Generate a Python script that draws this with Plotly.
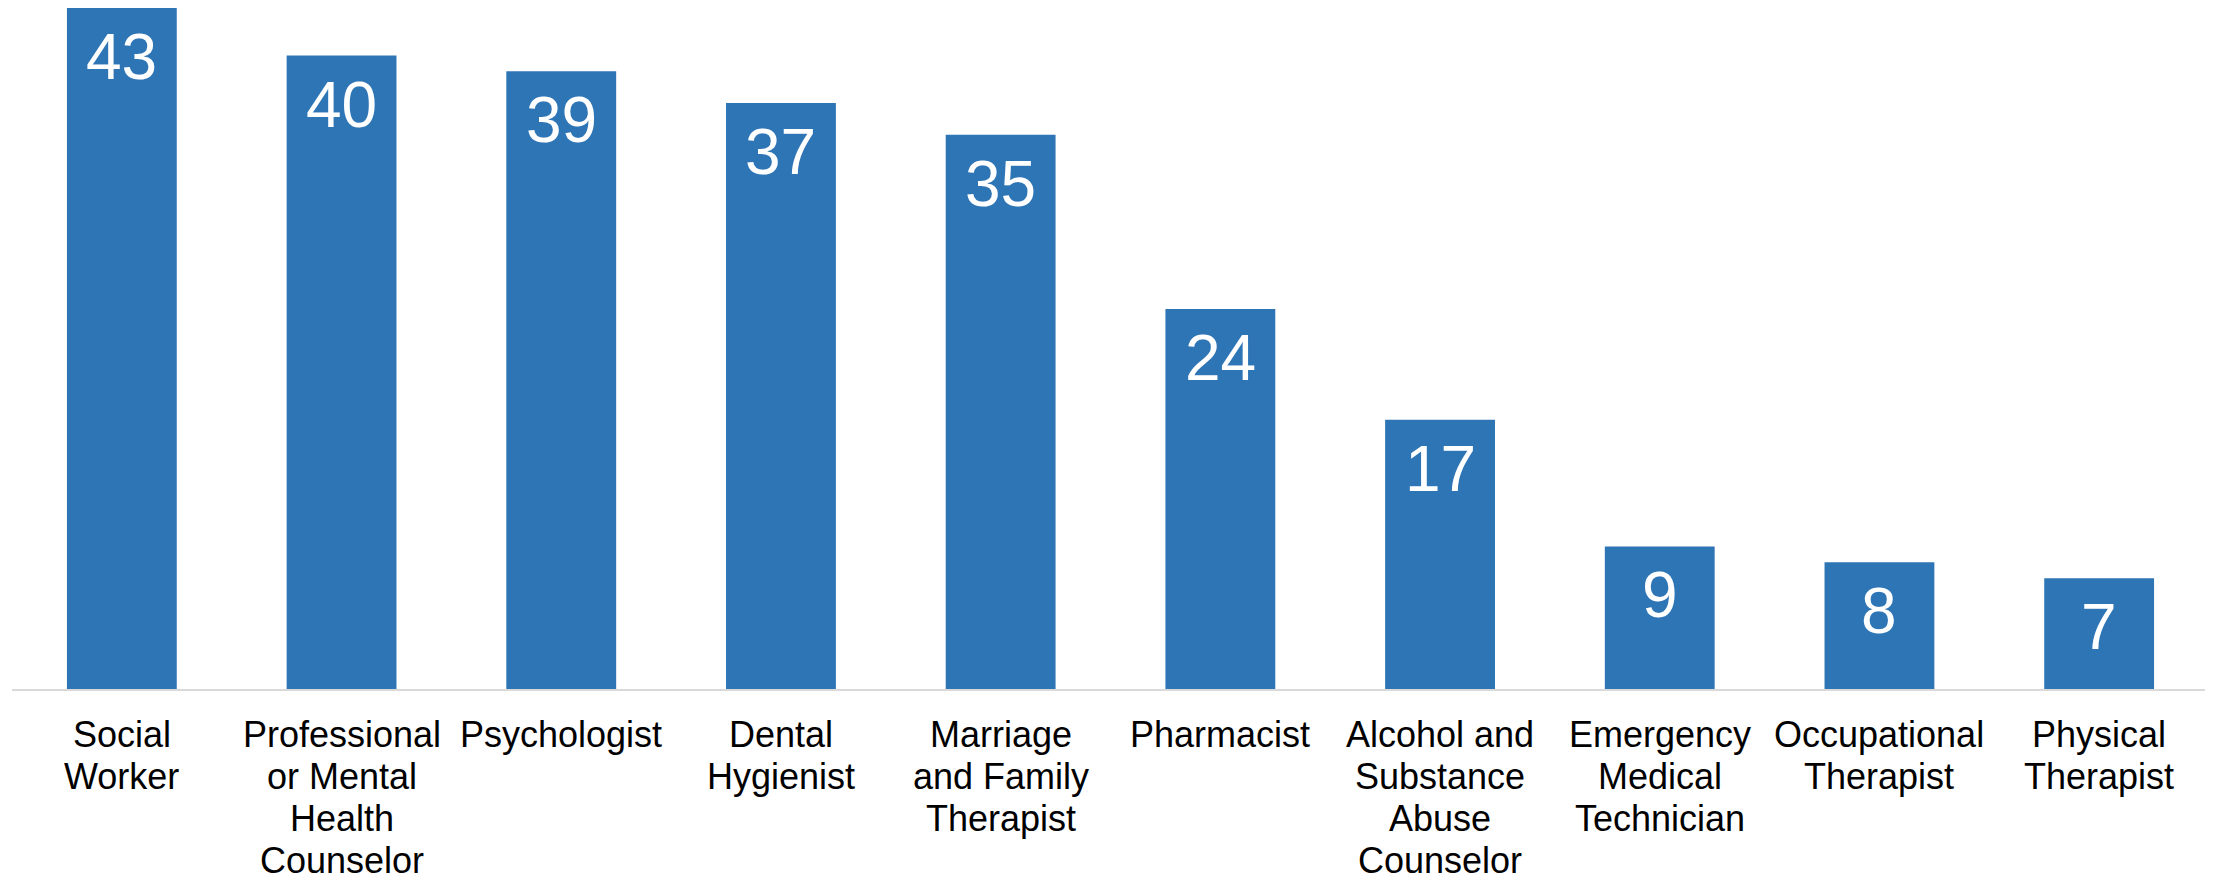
import plotly.graph_objects as go

categories = [
    "Social<br>Worker",
    "Professional<br>or Mental<br>Health<br>Counselor",
    "Psychologist",
    "Dental<br>Hygienist",
    "Marriage<br>and Family<br>Therapist",
    "Pharmacist",
    "Alcohol and<br>Substance<br>Abuse<br>Counselor",
    "Emergency<br>Medical<br>Technician",
    "Occupational<br>Therapist",
    "Physical<br>Therapist",
]
values = [43, 40, 39, 37, 35, 24, 17, 9, 8, 7]

BAR_COLOR = "#2E75B6"
FONT = "Liberation Sans, Arial, sans-serif"
LABEL_SIZE = 36
LINE_GAP = 42
FIRST_SHIFT = 23

fig = go.Figure(
    go.Bar(
        x=categories,
        y=values,
        marker=dict(color=BAR_COLOR, line=dict(width=0)),
        hoverinfo="x+y",
    )
)

# value labels inside the top of each bar
for c, v in zip(categories, values):
    fig.add_annotation(
        x=c, y=v, xref="x", yref="y",
        text=str(v), showarrow=False,
        yanchor="top", yshift=-11,
        font=dict(family=FONT, size=64, color="white"),
    )

# category labels, one line at a time for tighter line spacing
for c in categories:
    for i, line in enumerate(c.split("<br>")):
        fig.add_annotation(
            x=c, y=0, xref="x", yref="y",
            text=line, showarrow=False,
            yanchor="top", yshift=-(FIRST_SHIFT + LINE_GAP * i),
            font=dict(family=FONT, size=LABEL_SIZE, color="black"),
        )

fig.update_layout(
    width=2205, height=872,
    margin=dict(l=4, r=4, t=0, b=191),
    paper_bgcolor="white", plot_bgcolor="white",
    bargap=0.5,
    showlegend=False,
    font=dict(family=FONT, size=33, color="black"),
)
fig.update_xaxes(
    showline=True, linecolor="#D9D9D9", linewidth=2,
    showgrid=False, ticks="", showticklabels=False,
)
fig.update_yaxes(visible=False, range=[0, 43], showgrid=False, zeroline=False)

fig.write_html("out.html")
